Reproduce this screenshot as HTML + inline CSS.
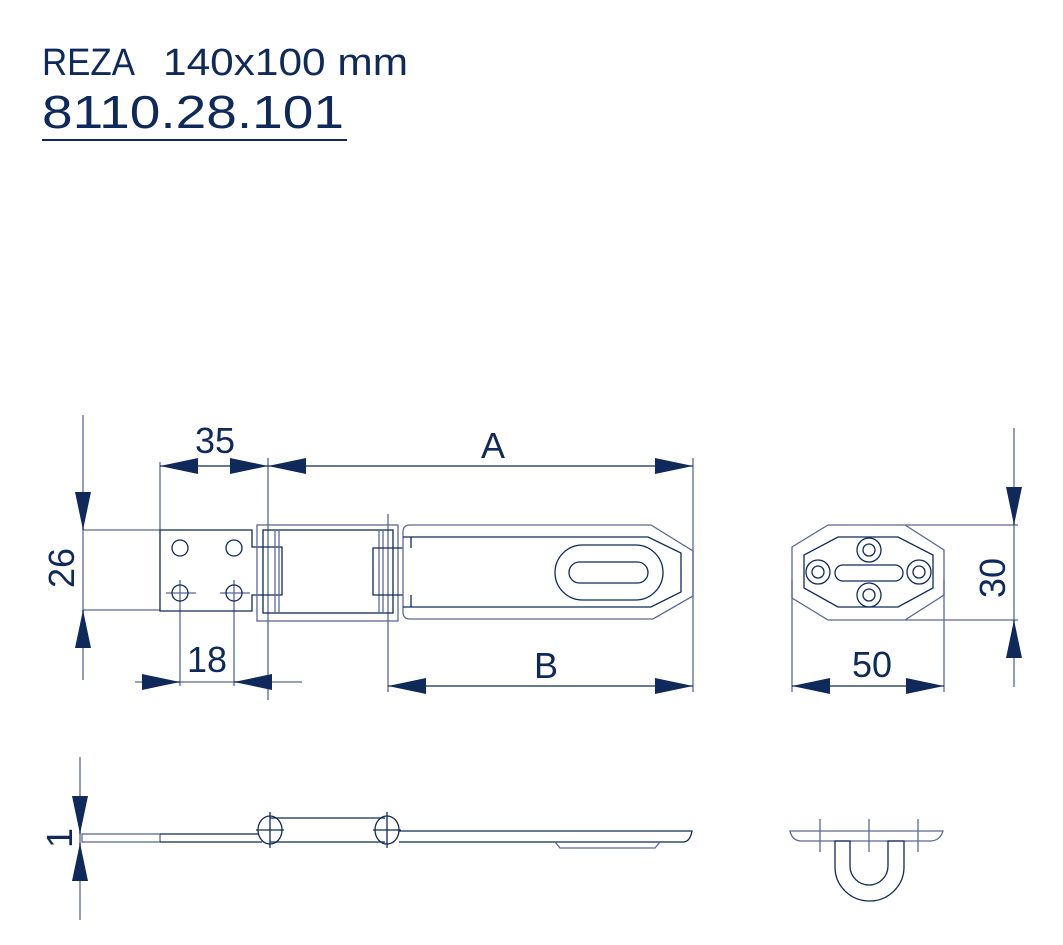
<!DOCTYPE html>
<html><head><meta charset="utf-8"><style>
html,body{margin:0;padding:0;background:#fff;}
svg{display:block;}
text{font-family:"Liberation Sans",sans-serif;fill:#0f2a5a;}
</style></head><body>
<svg width="1063" height="945" viewBox="0 0 1063 945" xmlns="http://www.w3.org/2000/svg">
<defs>
<marker id="a" viewBox="0 0 38 16" refX="38" refY="8" markerWidth="38" markerHeight="16" markerUnits="userSpaceOnUse" orient="auto-start-reverse"><path d="M0,0L38,8L0,16Z" fill="#0f2a5a"/></marker>
</defs>
<text x="42" y="75" font-size="38" textLength="93" lengthAdjust="spacingAndGlyphs">REZA</text>
<text x="163" y="75" font-size="38" textLength="245" lengthAdjust="spacingAndGlyphs">140x100 mm</text>
<text x="42" y="128" font-size="46" textLength="302" lengthAdjust="spacingAndGlyphs">8110.28.101</text>
<line x1="42" y1="140" x2="347" y2="140" stroke="#0f2a5a" stroke-width="2"/>

<g stroke="#5a6894" stroke-width="1.3" fill="none">
<line x1="83" y1="415" x2="83" y2="680"/>
<line x1="83" y1="530" x2="160" y2="530"/>
<line x1="83" y1="610" x2="160" y2="610"/>
<line x1="160" y1="462" x2="160" y2="530"/>
<line x1="268" y1="458" x2="268" y2="700"/>
<line x1="388" y1="514" x2="388" y2="692"/>
<line x1="693" y1="458" x2="693" y2="692"/>
<line x1="135" y1="682" x2="302" y2="682"/>
<line x1="180" y1="580" x2="180" y2="686"/>
<line x1="234" y1="580" x2="234" y2="686"/>
<line x1="166" y1="593" x2="196" y2="593"/>
<line x1="220" y1="593" x2="250" y2="593"/>
<line x1="1014" y1="428" x2="1014" y2="687"/>
<line x1="905" y1="525" x2="1018" y2="525"/>
<line x1="905" y1="620" x2="1018" y2="620"/>
<line x1="792" y1="580" x2="792" y2="692"/>
<line x1="944" y1="580" x2="944" y2="692"/>
<line x1="80" y1="757" x2="80" y2="920"/>
</g>
<g stroke="#0f2a5a" stroke-width="1.3" fill="none">
<line x1="160" y1="466" x2="268" y2="466" marker-start="url(#a)" marker-end="url(#a)"/>
<line x1="268" y1="466" x2="693" y2="466" marker-start="url(#a)" marker-end="url(#a)"/>
<line x1="388" y1="686" x2="693" y2="686" marker-start="url(#a)" marker-end="url(#a)"/>
<line x1="792" y1="686" x2="944" y2="686" marker-start="url(#a)" marker-end="url(#a)"/>
<line x1="83" y1="492" x2="83" y2="530" marker-end="url(#a)"/>
<line x1="83" y1="648" x2="83" y2="610" marker-end="url(#a)"/>
<line x1="143" y1="682" x2="180" y2="682" marker-end="url(#a)"/>
<line x1="272" y1="682" x2="234" y2="682" marker-end="url(#a)"/>
<line x1="1014" y1="487" x2="1014" y2="525" marker-end="url(#a)"/>
<line x1="1014" y1="658" x2="1014" y2="620" marker-end="url(#a)"/>
<line x1="80" y1="796" x2="80" y2="834" marker-end="url(#a)"/>
<line x1="80" y1="881" x2="80" y2="843" marker-end="url(#a)"/>

<path d="M160,530 H252 V547 H282 V595 H252 V611 H160 Z"/>
<circle cx="180" cy="548" r="8"/><circle cx="234" cy="548" r="8"/>
<circle cx="180" cy="593" r="8"/><circle cx="234" cy="593" r="8"/>
<rect x="257" y="525" width="141" height="96" stroke="#5a6894"/>
<rect x="263" y="530" width="130" height="83"/>
<g stroke="#5a6894"><line x1="275" y1="530" x2="275" y2="613"/><line x1="279" y1="530" x2="279" y2="613"/><line x1="379" y1="530" x2="379" y2="613"/><line x1="383" y1="530" x2="383" y2="613"/></g>
<path d="M403,548 H373 V595 H403"/>
<path d="M410,525 H651 L693,551 V596 L653,619 H410 Q403,619 403,612 V532 Q403,525 410,525 Z" stroke="#5a6894"/>
<path d="M403,537 H648 L681,553 V592 L651,607 H403" />
<line x1="411" y1="537" x2="411" y2="548"/><line x1="411" y1="595" x2="411" y2="607"/>
<rect x="555" y="545" width="108" height="55" rx="27.5"/>
<rect x="569" y="562" width="79" height="21" rx="10.5"/>

<path d="M828,525 H905 L944,550 V595 L905,620 H828 L792,598 V547 Z" stroke="#5a6894"/>
<path d="M838,537 H898 L933,555 V588 L898,607 H838 L804,588 V555 Z"/>
<rect x="835" y="565" width="68" height="16" rx="8"/>
<circle cx="869" cy="550" r="12"/><circle cx="869" cy="550" r="6"/>
<circle cx="869" cy="595" r="12"/><circle cx="869" cy="595" r="6"/>
<circle cx="818" cy="572" r="12"/><circle cx="818" cy="572" r="6"/>
<circle cx="919" cy="572" r="12"/><circle cx="919" cy="572" r="6"/>

<rect x="82" y="834" width="78" height="8" stroke="#5a6894"/>
<path d="M160,834 H258 M160,842 H262"/>
<path d="M270,818 H385 M270,842 H385"/>
<ellipse cx="270" cy="830" rx="12" ry="14"/>
<ellipse cx="387" cy="830" rx="12" ry="14"/>
<g stroke="#0f2a5a"><line x1="270" y1="812" x2="270" y2="848"/><line x1="256" y1="830" x2="284" y2="830"/><line x1="387" y1="812" x2="387" y2="848"/><line x1="373" y1="830" x2="401" y2="830"/></g>
<path d="M399,831 H692 Q690,842 683,842 H399"/>
<path d="M555,842 L560,848 H655 L660,842" stroke="#5a6894"/>
<path d="M790,831 H943 Q940,841 930,841 H802 Q792,841 790,831 Z" stroke="#5a6894"/>
<g stroke="#5a6894"><line x1="820" y1="819" x2="820" y2="852"/><line x1="869" y1="819" x2="869" y2="852"/><line x1="918" y1="819" x2="918" y2="852"/></g>
<path d="M835,841 V867 A34.5,34 0 0 0 904,867 V841 H888 V866 A19,19 0 0 1 850,866 V841 Z"/>
</g>

<text x="215" y="453" font-size="36" text-anchor="middle">35</text>
<text x="493" y="458" font-size="36" text-anchor="middle">A</text>
<text x="207" y="672" font-size="36" text-anchor="middle">18</text>
<text x="546" y="678" font-size="36" text-anchor="middle">B</text>
<text x="872" y="677" font-size="36" text-anchor="middle">50</text>
<text transform="translate(74,568) rotate(-90)" font-size="36" text-anchor="middle">26</text>
<text transform="translate(1005,578) rotate(-90)" font-size="36" text-anchor="middle">30</text>
<text transform="translate(72,838) rotate(-90)" font-size="36" text-anchor="middle">1</text>
</svg>
</body></html>
